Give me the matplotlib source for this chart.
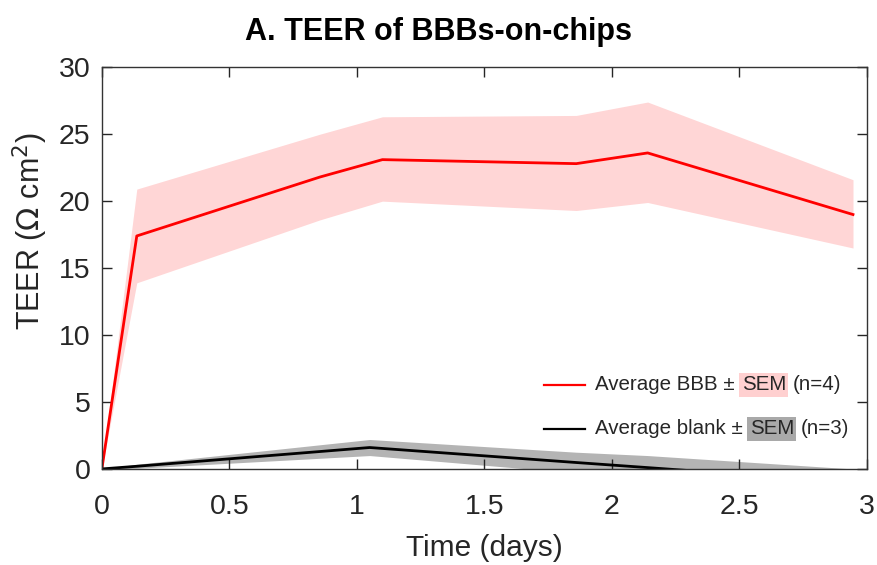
import numpy as np
import matplotlib
matplotlib.use("Agg")
import matplotlib.pyplot as plt
from matplotlib.offsetbox import (AnchoredOffsetbox, DrawingArea, HPacker,
                                  TextArea, VPacker)
from matplotlib.lines import Line2D

plt.rcParams['font.family'] = ['Liberation Sans', 'DejaVu Sans']

# BBB chips (n=4)
bbb_days = [0, 0.137, 0.855, 1.10, 1.86, 2.14, 2.945]
bbb_mean = [0, 17.4, 21.8, 23.1, 22.8, 23.6, 19.0]
bbb_upper = [0, 20.9, 25.0, 26.3, 26.4, 27.4, 21.6]
bbb_lower = [0, 13.9, 18.6, 20.0, 19.3, 19.9, 16.5]

# blank chips (n=3)
blank_days = [0, 0.137, 1.05, 1.86, 2.14, 2.945]
blank_mean = [0, 0.2, 1.6, 0.48, 0.1, -1.0]
blank_upper = [0, 0.35, 2.2, 1.25, 1.0, 0.0]
blank_lower = [0, 0.05, 1.0, -0.3, -0.8, -2.0]

xticks = [0, 0.5, 1, 1.5, 2, 2.5, 3]
yticks = [0, 5, 10, 15, 20, 25, 30]

fig = plt.figure(figsize=(8.78, 5.65), dpi=100)
ax = fig.add_axes([0.116, 0.170, 0.8715, 0.711])

ax.fill_between(bbb_days, bbb_lower, bbb_upper, color='#ffd6d6', lw=0)
ax.fill_between(blank_days, blank_lower, blank_upper, color='#b4b4b4', lw=0)
ax.plot(bbb_days, bbb_mean, color='#ff0000', lw=2)
ax.plot(blank_days, blank_mean, color='black', lw=2)

ax.set_xlim(0, 3)
ax.set_ylim(0, 30)
ax.set_xticks(xticks)
ax.set_xticklabels(['0', '0.5', '1', '1.5', '2', '2.5', '3'])
ax.set_yticks(yticks)
ax.tick_params(direction='in', length=7, width=1, top=True, right=True,
               labelsize=20.5, colors='#262626')
ax.tick_params(axis='x', pad=18)
ax.tick_params(axis='y', pad=8)
for s in ax.spines.values():
    s.set_color('#333333')
    s.set_linewidth(1)

ax.set_xlabel('Time (days)', fontsize=21.5, color='#262626', labelpad=10)
ax.set_ylabel('TEER ($\\Omega$ cm$^2$)', fontsize=22, color='#262626')
ax.yaxis.set_label_coords(-0.068, 0.592)
fig.text(0.5, 0.93, 'A. TEER of BBBs-on-chips', fontsize=22,
         fontweight='bold', ha='center', va='baseline')


# legend with the SEM words highlighted in the band colours
def legend_row(color, label, shade, n_text):
    da = DrawingArea(30, 10, 0, 0)
    da.add_artist(Line2D([0, 30], [5, 5], color=color, lw=1.6))
    tp = dict(fontsize=14.8, color='#262626')
    t1 = TextArea(label + ' \u00b1', textprops=tp)
    t2 = TextArea('SEM', textprops=dict(tp, bbox=dict(boxstyle='square,pad=0.12',
                                                      fc=shade, ec='none')))
    t3 = TextArea(n_text, textprops=tp)
    inner = HPacker(children=[t1, t2, t3], align='baseline', pad=0, sep=5)
    return HPacker(children=[da, inner], align='center', pad=0, sep=7)


rows = VPacker(children=[legend_row('#ff0000', 'Average BBB', '#ffd0d0', '(n=4)'),
                         legend_row('black', 'Average blank', '#a9a9a9', '(n=3)')],
               align='left', pad=0, sep=18)
anch = AnchoredOffsetbox(loc='lower right', child=rows, frameon=False,
                         bbox_to_anchor=(0.984, 0.062),
                         bbox_transform=ax.transAxes, borderpad=0)
ax.add_artist(anch)

fig.savefig('out.png', dpi=100)
